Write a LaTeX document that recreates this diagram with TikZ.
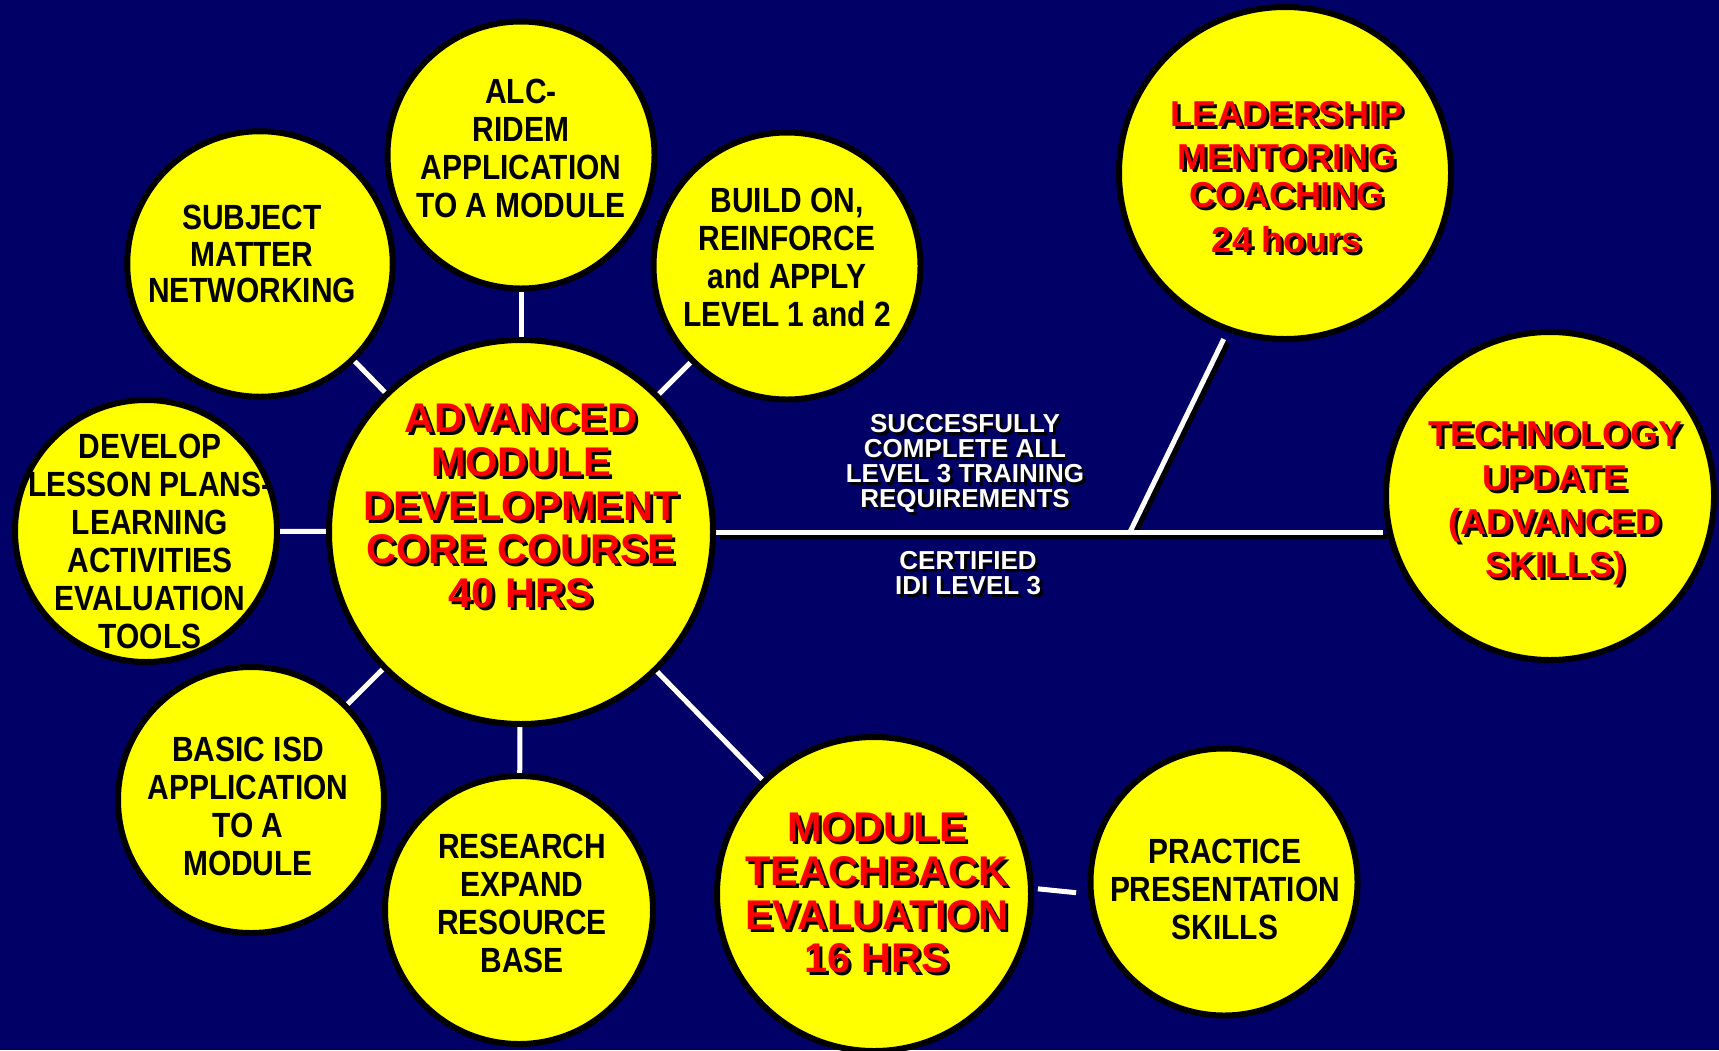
\documentclass[tikz,border=0pt]{standalone}
\usepackage{fontspec}
\setmainfont{Liberation Sans}
\newfontfamily\narrowfam{Liberation Sans}[FakeStretch=0.855]
\usetikzlibrary{calc}
\pgfdeclarelayer{bg}
\pgfdeclarelayer{lines}
\pgfsetlayers{bg,lines,main}
\definecolor{navy}{RGB}{0,0,102}
\definecolor{yel}{RGB}{255,255,0}
\definecolor{redtxt}{RGB}{255,0,0}
\newcommand\bkfnt{\narrowfam\bfseries\fontsize{35bp}{38bp}\selectfont}
\newcommand\bigredfnt{\bfseries\fontsize{41.5bp}{43.75bp}\selectfont}
\newcommand\midredfnt{\bfseries\fontsize{36bp}{38bp}\selectfont}
\newcommand\whfnt{\bfseries\fontsize{26bp}{25bp}\selectfont}
\newcommand\shadowed[5]{%
  \node[#4, text=black] (#1s) at (#2+3,#3+3) {#5};
  \node[#4] (#1) at (#2,#3) {#5};}
\begin{document}
\begin{tikzpicture}[x=1bp,y=-1bp,
  bubble/.style={circle, draw=black, line width=6bp, fill=yel, inner sep=0pt},
  lbl/.style={align=center, inner sep=0pt, text depth=0pt},
  bk/.style={lbl, text=black, font=\bkfnt},
  bigred/.style={lbl, text=redtxt, font=\bigredfnt},
  midred/.style={lbl, text=redtxt, font=\midredfnt},
  wht/.style={lbl, text=white, font=\whfnt},
  conn/.style={draw=white, line width=5bp},
  connshad/.style={draw=black, line width=5bp}]
\useasboundingbox (0,0) rectangle (1719,1050);
\begin{pgfonlayer}{bg}
  \fill[navy] (0,0) rectangle (1719,1050);
\end{pgfonlayer}

% bubbles
\node[bubble, minimum size=384bp] (cent) at (521,532) {};
\node[bubble, minimum size=265.5bp] (subj) at (260,264) {};
\node[bubble, minimum size=267bp] (alc) at (521,155) {};
\node[bubble, minimum size=267bp] (build) at (787,266) {};
\node[bubble, minimum size=262bp] (dev) at (146,531) {};
\node[bubble, minimum size=266bp] (basic) at (251,800) {};
\node[bubble, minimum size=268bp] (res) at (519,910) {};
\node[bubble, minimum size=314bp] (mod) at (874,894) {};
\node[bubble, minimum size=267bp] (prac) at (1224,882) {};
\node[bubble, minimum size=332bp] (lead) at (1285,173) {};
\node[bubble, minimum size=328bp] (tech) at (1550,496) {};

\coordinate (hEnd) at (cent.east -| tech.west);
\coordinate (junc) at (1130,532);

% connectors
\begin{pgfonlayer}{lines}
  \draw[conn] (cent) -- (subj);
  \draw[conn] (cent) -- (alc);
  \draw[conn] (cent) -- (build);
  \draw[conn] (cent) -- (dev);
  \draw[conn] (cent) -- (basic);
  \draw[conn] (cent) -- (res);
  \draw[conn] (cent) -- (mod);
  \draw[conn, shorten <=4bp, shorten >=12bp] (mod.2) -- (prac.185);
  \draw[connshad] ([shift={(4,4)}]cent.east) -- ([shift={(4,4)}]hEnd);
  \draw[connshad, shorten >=8bp] ([shift={(4,4)}]junc) -- ([shift={(4,4)}]lead.250);
  \draw[conn] (cent.east) -- (hEnd);
  \draw[conn, shorten >=8bp] (junc) -- (lead.250);
\end{pgfonlayer}

% black labels
\node[bk] (subjT) at (252,254) {SUBJECT\\[-1.3bp]MATTER\\[-1.3bp]NETWORKING};
\node[bk] (alcT) at (521,148.5) {ALC-\\RIDEM\\APPLICATION\\TO A MODULE};
\node[bk] (buildT) at (787,257) {BUILD ON,\\REINFORCE\\and APPLY\\LEVEL 1 and 2};
\node[bk] (devT) at (150,541) {DEVELOP\\LESSON PLANS-\\LEARNING\\ACTIVITIES\\EVALUATION\\TOOLS};
\node[bk] (basicT) at (248,806) {BASIC ISD\\APPLICATION\\TO A\\MODULE};
\node[bk] (resT) at (522,903) {RESEARCH\\EXPAND\\RESOURCE\\BASE};
\node[bk] (pracT) at (1225,889) {PRACTICE\\PRESENTATION\\SKILLS};

% red shadowed labels
\shadowed{centT}{521}{505.7}{bigred}{ADVANCED\\MODULE\\DEVELOPMENT\\CORE COURSE\\40 HRS}
\shadowed{modT}{877}{892.7}{bigred}{MODULE\\TEACHBACK\\EVALUATION\\16 HRS}
\shadowed{leadT}{1287}{177}{midred}{LEADERSHIP\\[5bp]MENTORING\\COACHING\\[7bp]24 hours}
\shadowed{techT}{1555}{499.6}{midred}{TECHNOLOGY\\[5.7bp]UPDATE\\[5.7bp](ADVANCED\\[5.7bp]SKILLS)}

% white shadowed labels
\shadowed{succT}{965}{461}{wht}{SUCCESFULLY\\COMPLETE ALL\\LEVEL 3 TRAINING\\REQUIREMENTS}
\shadowed{certT}{968}{573}{wht}{CERTIFIED\\IDI LEVEL 3}
\end{tikzpicture}
\end{document}
